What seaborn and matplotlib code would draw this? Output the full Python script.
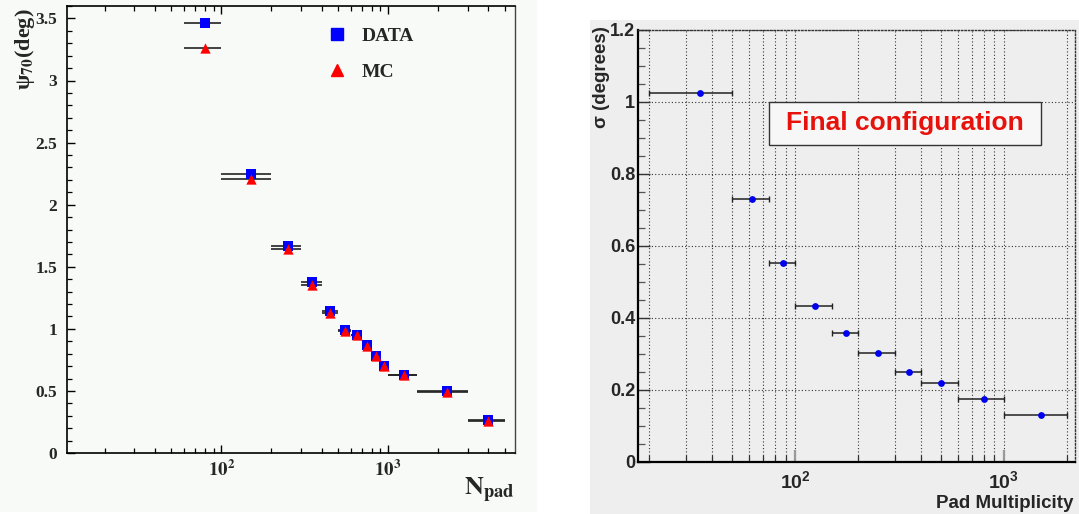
import numpy as np
import pandas as pd
import matplotlib
matplotlib.use("Agg")
import matplotlib.pyplot as plt
import seaborn as sns
from matplotlib.ticker import LogLocator, MultipleLocator, NullFormatter, FixedLocator
from matplotlib.lines import Line2D
from matplotlib.patches import Rectangle

# ---------------- data: left panel (psi_70 vs N_pad) ----------------
npad_lo = [60, 100, 200, 300, 400, 500, 600, 700, 800, 900, 1000, 1500, 3000]
npad_hi = [100, 200, 300, 400, 500, 600, 700, 800, 900, 1000, 1500, 3000, 5000]
npad_center = [80, 150, 250, 350, 450, 550, 650, 750, 850, 950, 1250, 2250, 4000]
psi_data = [3.46, 2.25, 1.665, 1.378, 1.14, 0.99, 0.952, 0.869, 0.783, 0.703, 0.63, 0.496, 0.263]
psi_mc = [3.26, 2.205, 1.641, 1.352, 1.13, 0.985, 0.948, 0.865, 0.778, 0.698, 0.625, 0.492, 0.26]

# ---------------- data: right panel (sigma vs pad multiplicity) ----------------
mult_lo = [20, 50, 75, 100, 150, 200, 300, 400, 600, 1000]
mult_hi = [50, 75, 100, 150, 200, 300, 400, 600, 1000, 2000]
mult_center = [35, 62.5, 87.5, 125, 175, 250, 350, 500, 800, 1500]
sigma_deg = [1.025, 0.730, 0.553, 0.433, 0.358, 0.303, 0.249, 0.219, 0.174, 0.131]

left_legend = ["DATA", "MC"]
left_yticks = [0, 0.5, 1, 1.5, 2, 2.5, 3, 3.5]
left_yticklabels = ["0", "0.5", "1", "1.5", "2", "2.5", "3", "3.5"]
right_yticks = [0, 0.2, 0.4, 0.6, 0.8, 1.0, 1.2]
right_yticklabels = ["0", "0.2", "0.4", "0.6", "0.8", "1", "1.2"]
xtick_vals = [100, 1000]
box_text = "Final configuration"

sns.set_style("ticks")
plt.rcParams["font.family"] = ["Liberation Sans", "DejaVu Sans"]
plt.rcParams["mathtext.fontset"] = "custom"
plt.rcParams["mathtext.rm"] = "Liberation Sans"
plt.rcParams["mathtext.bf"] = "Liberation Sans:bold"
plt.rcParams["mathtext.it"] = "Liberation Sans:italic"

W, H = 1079, 514
fig = plt.figure(figsize=(W / 100, H / 100), dpi=100)
fig.patch.set_facecolor("white")

def fx(px):
    return px / W

def fy(py):
    return 1 - py / H

# panel backgrounds
fig.patches.append(Rectangle((0, fy(512)), fx(537), fy(0) - fy(512), transform=fig.transFigure,
                             facecolor="#f7faf7", edgecolor="none", zorder=-10))
fig.patches.append(Rectangle((fx(590), 0), 1 - fx(590), fy(20), transform=fig.transFigure,
                             facecolor="#eeeeee", edgecolor="none", zorder=-10))

# ================= LEFT PANEL =================
L0, L1, T0, B0 = 67, 515, 6, 453
axL = fig.add_axes([fx(L0), fy(B0), fx(L1 - L0), fy(T0) - fy(B0)])
axL.set_facecolor("#f7faf7")
axL.set_xscale("log")
axL.set_xlim(11.9, 5770)
axL.set_ylim(0, 3.6)

c = np.array(npad_center, float)
xerr = [c - np.array(npad_lo), np.array(npad_hi) - c]
axL.errorbar(c, psi_data, xerr=xerr, fmt="none", ecolor="#222222", elinewidth=1.2, capsize=0, zorder=2)
axL.errorbar(c, psi_mc, xerr=xerr, fmt="none", ecolor="#222222", elinewidth=1.2, capsize=0, zorder=2)
sns.scatterplot(x=npad_center, y=psi_data, marker="s", s=48, color="#0000ff", edgecolor="#0000ff",
                linewidth=0, ax=axL, zorder=3)
sns.scatterplot(x=npad_center, y=psi_mc, marker="^", s=55, color="#ff0000", edgecolor="#ff0000",
                linewidth=0, ax=axL, zorder=4)

serif = "Liberation Serif"
axL.set_yticks(left_yticks)
axL.set_yticklabels(left_yticklabels, fontfamily=serif, fontweight="bold", fontsize=12.5)
axL.yaxis.set_minor_locator(MultipleLocator(0.1))
axL.xaxis.set_major_locator(FixedLocator(xtick_vals))
axL.set_xticklabels([r"$\mathbf{10^{%d}}$" % int(np.log10(v)) for v in xtick_vals],
                    math_fontfamily="stix", fontsize=13.5)
axL.xaxis.set_minor_locator(LogLocator(base=10, subs=np.arange(2, 10)))
axL.xaxis.set_minor_formatter(NullFormatter())
axL.tick_params(axis="both", which="both", direction="in", color="black")
axL.tick_params(axis="x", which="both", top=True, bottom=True, pad=5)
axL.tick_params(axis="y", which="both", left=True, right=False, pad=7)
axL.tick_params(which="major", length=6, width=1.0)
axL.tick_params(which="minor", length=3.6, width=0.9)
for s in ["left", "bottom", "top"]:
    axL.spines[s].set_color("black")
    axL.spines[s].set_linewidth(1.2)
axL.spines["right"].set_color("#444444")
axL.spines["right"].set_linewidth(1.0)
axL.set_xlabel("")
axL.set_ylabel("")

fig.text(fx(25), fy(8), r"ψ$_{\mathbf{70}}$(deg)", rotation=90, ha="center", va="top",
         fontfamily=serif, fontweight="bold", fontsize=16, math_fontfamily="stix")
fig.text(fx(515), fy(490), r"$\mathbf{N_{pad}}$", ha="right", va="center",
         fontsize=19, math_fontfamily="stix")

handles = [Line2D([], [], marker="s", linestyle="none", color="#0000ff", markersize=8),
           Line2D([], [], marker="^", linestyle="none", color="#ff0000", markersize=9)]
leg = axL.legend(handles, left_legend, loc="upper left", bbox_to_anchor=(0.58, 0.953),
                 frameon=False, borderpad=0, borderaxespad=0, handlelength=1.0, handletextpad=0.8,
                 labelspacing=0.95, prop={"family": serif, "weight": "bold", "size": 14})

# ================= RIGHT PANEL =================
R0, R1, RT, RB = 638, 1075, 30, 462
axR = fig.add_axes([fx(R0), fy(RB), fx(R1 - R0), fy(RT) - fy(RB)])
axR.set_facecolor("#eeeeee")
axR.set_xscale("log")
axR.set_xlim(17.7, 2190)
axR.set_ylim(0, 1.2)

m = np.array(mult_center, float)
axR.errorbar(m, sigma_deg, xerr=[m - np.array(mult_lo), np.array(mult_hi) - m], fmt="none",
             ecolor="#222222", elinewidth=1.1, capsize=2.0, capthick=1.0, zorder=3)
sns.scatterplot(x=mult_center, y=sigma_deg, marker="o", s=24, color="#0000ee", edgecolor="#0000ee",
                linewidth=0, ax=axR, zorder=4)

axR.set_yticks(right_yticks)
axR.set_yticklabels(right_yticklabels, fontweight="bold", fontsize=13)
axR.yaxis.set_minor_locator(MultipleLocator(0.05))
axR.xaxis.set_major_locator(FixedLocator(xtick_vals))
axR.set_xticklabels([r"$\mathbf{10^{%d}}$" % int(np.log10(v)) for v in xtick_vals], fontsize=14)
axR.xaxis.set_minor_locator(LogLocator(base=10, subs=np.arange(2, 10)))
axR.xaxis.set_minor_formatter(NullFormatter())
axR.tick_params(axis="both", which="both", direction="in", top=False, right=False)
axR.tick_params(axis="y", which="major", length=8.5, width=1.0, color="#333333", pad=2)
axR.tick_params(axis="y", which="minor", length=5, width=0.9, color="#555555")
axR.tick_params(axis="x", which="major", length=9, width=1.6, color="#999999", pad=6)
axR.tick_params(axis="x", which="minor", length=5, width=0.9, color="#333333")
axR.grid(True, axis="x", which="both", linestyle=(0, (1, 2)), color="#333333", linewidth=0.8)
axR.grid(True, axis="y", which="major", linestyle=(0, (1, 2)), color="#333333", linewidth=0.8)
axR.set_axisbelow(True)
for s in ["left", "bottom"]:
    axR.spines[s].set_color("black")
    axR.spines[s].set_linewidth(1.6)
for s in ["top", "right"]:
    axR.spines[s].set_color("#333333")
    axR.spines[s].set_linewidth(1.0)
    axR.spines[s].set_linestyle((0, (1, 1.5)))
axR.set_xlabel("")
axR.set_ylabel("")

axR.add_patch(Rectangle((0.30, 0.734), 0.622, 0.099, transform=axR.transAxes,
                        facecolor="#f7f7f7", edgecolor="#333333", linewidth=1.0, zorder=5))
axR.text(0.611, 0.784, box_text, transform=axR.transAxes, ha="center", va="center",
         color="#e8120c", fontweight="bold", fontsize=19, zorder=6)

fig.text(fx(601), fy(26), "σ (degrees)", rotation=90, ha="center", va="top",
         fontweight="bold", fontsize=13.5)
fig.text(fx(1073), fy(503), "Pad Multiplicity", ha="right", va="center",
         fontweight="bold", fontsize=13.5)

fig.savefig("out.png", dpi=100, facecolor=fig.get_facecolor())
